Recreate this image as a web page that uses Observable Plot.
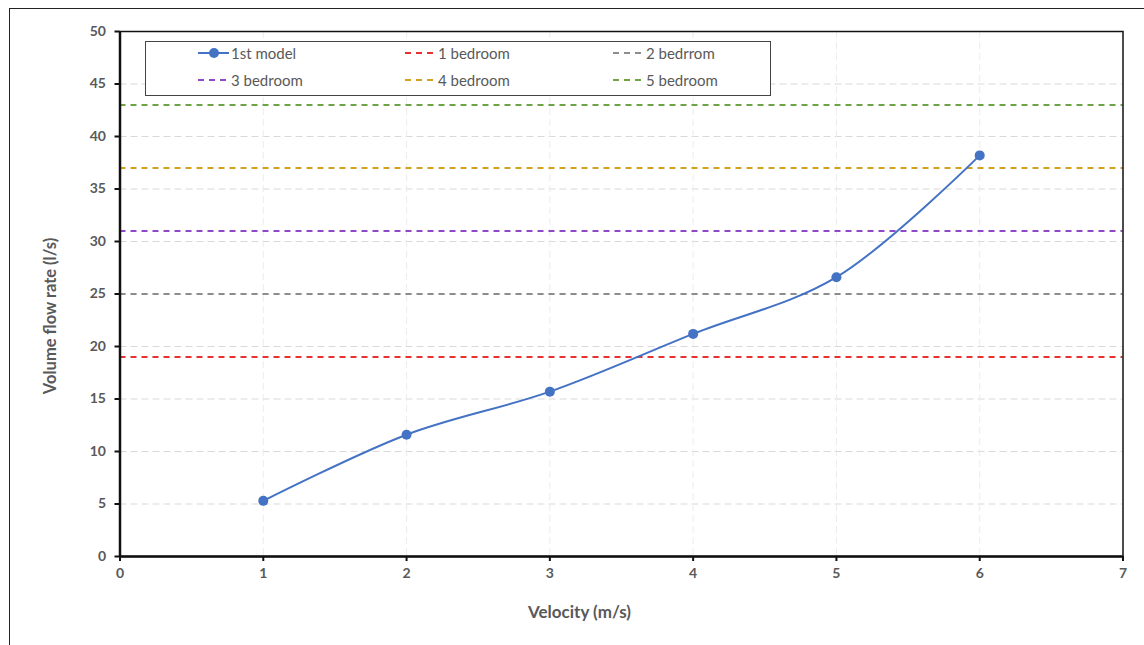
<!DOCTYPE html>
<html>
<head>
<meta charset="utf-8">
<script src="https://cdn.jsdelivr.net/npm/d3@7"></script>
<script src="https://cdn.jsdelivr.net/npm/@observablehq/plot@0.6"></script>
<style>
  html, body { margin: 0; padding: 0; background: #fff; }
  #wrap { position: relative; width: 1144px; height: 645px; overflow: hidden; font-family: Lato, "Open Sans", sans-serif; }
  #border { position: absolute; left: 9px; top: 8px; right: -10px; bottom: -10px; border-top: 1.5px solid #222; border-left: 1.5px solid #222; pointer-events: none; }
  #legend { position: absolute; left: 145px; top: 41px; width: 624px; height: 53px; border: 1.5px solid #444; background: #fff; }
  .item { position: absolute; display: flex; align-items: center; font-size: 15px; color: #595959; height: 20px; }
  .item svg { display: block; }
</style>
</head>
<body>
<div id="wrap">
  <div id="chart"></div>
  <div id="border"></div>
  <div id="legend"></div>
</div>
<script>
// Measured flow rate of the first model at each velocity
const velocity = [1, 2, 3, 4, 5, 6];
const flowRate = [5.3, 11.6, 15.7, 21.2, 26.6, 38.2];

// Required flow rate per house size
const houseNames = ["1 bedroom", "2 bedrrom", "3 bedroom", "4 bedroom", "5 bedroom"];
const houseFlow = [19, 25, 31, 37, 43];
const houseColors = ["#E8312F", "#8C8C8C", "#8E48C8", "#D4A21A", "#6FA444"];

const modelName = "1st model";
const modelColor = "#4472C4";

const xTicks = [0, 1, 2, 3, 4, 5, 6, 7];
const yTicks = [0, 5, 10, 15, 20, 25, 30, 35, 40, 45, 50];

const xTitle = "Velocity (m/s)";
const yTitle = "Volume flow rate (l/s)";

const model = velocity.map((v, i) => ({v, q: flowRate[i]}));
const houses = houseNames.map((name, i) => ({name, q: houseFlow[i], color: houseColors[i]}));

const W = 1144, H = 645;
const marginLeft = 119.5, marginRight = 21.5, marginTop = 31, marginBottom = 89;
const grey = "#595959";

const chart = Plot.plot({
  width: W,
  height: H,
  marginLeft, marginRight, marginTop, marginBottom,
  style: {fontFamily: "Lato, 'Open Sans', sans-serif", fontSize: "14px", fontWeight: "bold", color: grey, background: "transparent"},
  x: {domain: [0, 7]},
  y: {domain: [0, 50]},
  marks: [
    Plot.gridY(yTicks.slice(1), {stroke: "#d9d9d9", strokeOpacity: 1, strokeDasharray: "7,4", strokeWidth: 1}),
    Plot.gridX(xTicks.slice(1, -1), {stroke: "#ececec", strokeOpacity: 1, strokeDasharray: "7,4", strokeWidth: 1}),
    Plot.ruleY(houses, {y: "q", stroke: "color", strokeWidth: 2, strokeDasharray: "6,5"}),
    Plot.line(model, {x: "v", y: "q", stroke: modelColor, strokeWidth: 2, curve: "catmull-rom"}),
    Plot.dot(model, {x: "v", y: "q", r: 5, fill: modelColor, stroke: "none"}),
    Plot.frame({stroke: "#111", strokeWidth: 1.5}),
    Plot.ruleX([0], {stroke: "#111", strokeWidth: 2.5}),
    Plot.ruleY([0], {stroke: "#111", strokeWidth: 2.5}),
    Plot.axisY(yTicks, {
      anchor: "left", tickSize: 5, tickPadding: 9, stroke: "#111", strokeWidth: 2,
      fill: grey, fontSize: 14, fontWeight: "bold", tickFormat: "d", label: null
    }),
    Plot.axisX(xTicks, {
      anchor: "bottom", tickSize: 5, tickPadding: 7, stroke: "#111", strokeWidth: 2,
      fill: grey, fontSize: 14, fontWeight: "bold", tickFormat: "d", label: null
    }),
    // axis titles
    Plot.text([xTitle], {frameAnchor: "bottom", text: d => d, dx: -42, dy: 61, fill: grey, fontSize: 17, fontWeight: "bold"}),
    Plot.text([yTitle], {frameAnchor: "left", textAnchor: "middle", text: d => d, rotate: -90, dx: -69, dy: 22, fill: grey, fontSize: 16.5, fontWeight: "bold"})
  ]
});
document.getElementById("chart").appendChild(chart);

// Legend: three columns, two rows
const legend = document.getElementById("legend");
const entries = [
  {name: modelName, color: modelColor, type: "marker"},
  ...houses.map(h => ({name: h.name, color: h.color, type: "dash"}))
];
const colX = [52, 259, 467];
const rowY = [1, 28];
entries.forEach((e, i) => {
  const col = i % 3, row = Math.floor(i / 3);
  const item = document.createElement("div");
  item.className = "item";
  item.style.left = colX[col] + "px";
  item.style.top = rowY[row] + "px";
  const svg = d3.create("svg").attr("width", 33).attr("height", 20);
  if (e.type === "marker") {
    svg.append("line").attr("x1", 0).attr("x2", 31).attr("y1", 10).attr("y2", 10)
      .attr("stroke", e.color).attr("stroke-width", 2);
    svg.append("circle").attr("cx", 16).attr("cy", 10).attr("r", 5).attr("fill", e.color);
  } else {
    svg.append("line").attr("x1", 0).attr("x2", 32).attr("y1", 10).attr("y2", 10)
      .attr("stroke", e.color).attr("stroke-width", 2).attr("stroke-dasharray", "6,5");
  }
  item.appendChild(svg.node());
  const label = document.createElement("span");
  label.textContent = e.name;
  item.appendChild(label);
  legend.appendChild(item);
});
</script>
</body>
</html>
